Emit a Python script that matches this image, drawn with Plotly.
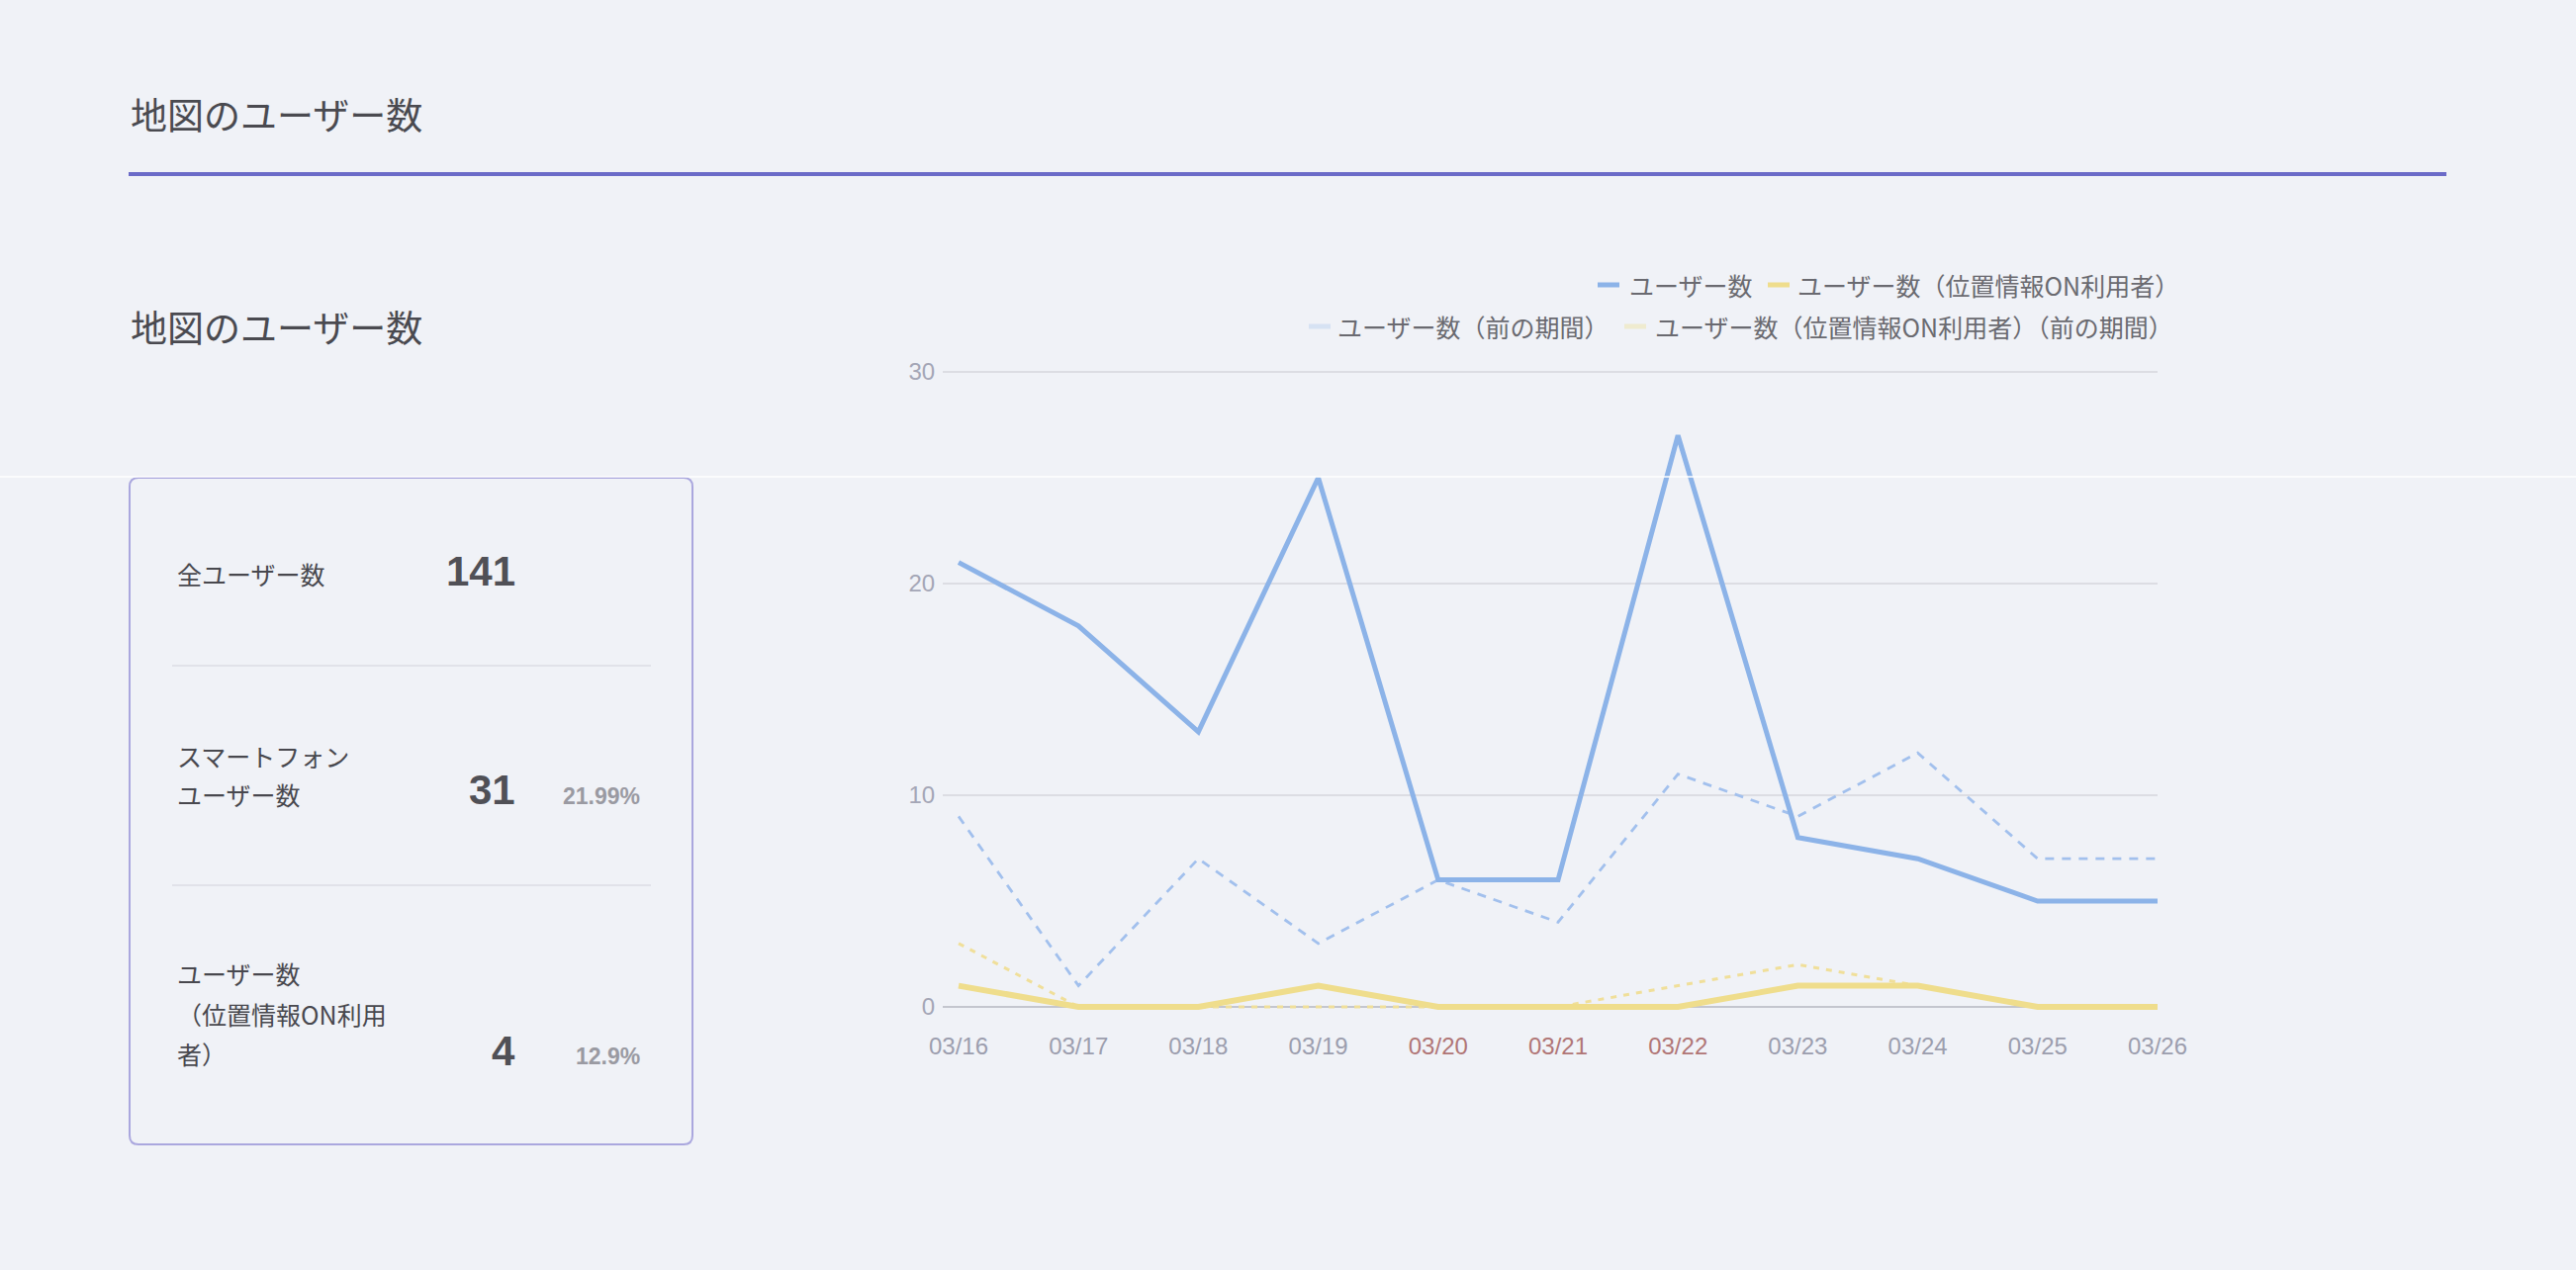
import plotly.graph_objects as go

# ---------------- data ----------------
dates = ["03/16", "03/17", "03/18", "03/19", "03/20", "03/21",
         "03/22", "03/23", "03/24", "03/25", "03/26"]
weekend_dates = ["03/20", "03/21", "03/22"]
users = [21, 18, 13, 25, 6, 6, 27, 8, 7, 5, 5]
users_location_on = [1, 0, 0, 1, 0, 0, 0, 1, 1, 0, 0]
users_prev = [9, 1, 7, 3, 6, 4, 11, 9, 12, 7, 7]
users_location_on_prev = [3, 0, 0, 0, 0, 0, 1, 2, 1, 0, 0]

series_names = ["ユーザー数", "ユーザー数（位置情報ON利用者）",
                "ユーザー数（前の期間）", "ユーザー数（位置情報ON利用者）（前の期間）"]
y_ticks = [0, 10, 20, 30]

page_title = "地図のユーザー数"
section_title = "地図のユーザー数"
kpi_labels = [["全ユーザー数"], ["スマートフォン", "ユーザー数"],
              ["ユーザー数", "（位置情報ON利用", "者）"]]
kpi_values = ["141", "31", "4"]
kpi_percents = ["", "21.99%", "12.9%"]

# ---------------- style ----------------
W, H = 2604, 1284
BG = "#f0f2f7"
JP = "Noto Sans CJK JP"
NUM = "Liberation Sans"
C_USERS = "#8cb3e8"
C_LOC = "#efdd8c"
C_USERS_PREV = "#a2c0ed"
C_LOC_PREV = "#f0df9a"


def px(x):
    return x / W


def py(y):
    return 1 - y / H


# plot area in pixels
PL, PR = 953, 2181
Y0_PIX, Y30_PIX = 1018, 376
unit = (Y0_PIX - Y30_PIX) / 30.0
y_lo, y_hi = -0.5, 30.3
PB = Y0_PIX - y_lo * unit
PT = Y30_PIX - (y_hi - 30) * unit
step = (PR - 969) / 10.0
x_lo = -(969 - PL) / step

fig = go.Figure()

fig.add_trace(go.Scatter(x=dates, y=users_prev, mode="lines", name=series_names[2],
                         line=dict(color=C_USERS_PREV, width=2.8, dash="9px,8px"),
                         showlegend=False))
fig.add_trace(go.Scatter(x=dates, y=users_location_on_prev, mode="lines", name=series_names[3],
                         line=dict(color=C_LOC_PREV, width=3, dash="6px,7px"),
                         showlegend=False))
fig.add_trace(go.Scatter(x=dates, y=users, mode="lines", name=series_names[0],
                         line=dict(color=C_USERS, width=5), showlegend=False))
fig.add_trace(go.Scatter(x=dates, y=users_location_on, mode="lines", name=series_names[1],
                         line=dict(color=C_LOC, width=6), showlegend=False))

ticktext = [f"<span style='color:#b07676'>{d}</span>" if d in weekend_dates else d
            for d in dates]

fig.update_layout(
    width=W, height=H, autosize=False,
    margin=dict(l=0, r=0, t=0, b=0, pad=0, autoexpand=False),
    paper_bgcolor=BG, plot_bgcolor=BG,
    showlegend=False,
    xaxis=dict(
        domain=[px(PL), px(PR)], type="category", range=[x_lo, 10],
        tickmode="array", tickvals=dates, ticktext=ticktext,
        showgrid=False, zeroline=False, showline=False, automargin=False,
        ticks="outside", ticklen=7, tickcolor="rgba(0,0,0,0)",
        tickfont=dict(family=NUM, size=24, color="#9c9eae"),
    ),
    yaxis=dict(
        domain=[py(PB), py(PT)], range=[y_lo, y_hi],
        tickmode="array", tickvals=y_ticks, automargin=False,
        showgrid=True, gridcolor="#dcdde3", gridwidth=2,
        zeroline=True, zerolinecolor="#c4c6ce", zerolinewidth=2,
        showline=False,
        ticks="outside", ticklen=2, tickcolor="rgba(0,0,0,0)",
        tickfont=dict(family=NUM, size=24, color="#a4a6b6"),
    ),
)

shapes = []
annotations = []

# header
annotations.append(dict(x=px(130), y=py(115), xref="paper", yref="paper",
                        xanchor="left", yanchor="middle", showarrow=False,
                        text=page_title, font=dict(family=JP, size=37, color="#4a4a50")))
shapes.append(dict(type="line", xref="paper", yref="paper",
                   x0=px(130), x1=px(2473), y0=py(176), y1=py(176),
                   line=dict(color="#6b6bc8", width=4)))
annotations.append(dict(x=px(130), y=py(330), xref="paper", yref="paper",
                        xanchor="left", yanchor="middle", showarrow=False,
                        text=section_title, font=dict(family=JP, size=37, color="#4a4a50")))

# card with rounded corners
cx0, cx1, cy0, cy1, r = 131, 700, 483, 1157, 9
path = (f"M {px(cx0 + r)},{py(cy0)} L {px(cx1 - r)},{py(cy0)} "
        f"Q {px(cx1)},{py(cy0)} {px(cx1)},{py(cy0 + r)} "
        f"L {px(cx1)},{py(cy1 - r)} Q {px(cx1)},{py(cy1)} {px(cx1 - r)},{py(cy1)} "
        f"L {px(cx0 + r)},{py(cy1)} Q {px(cx0)},{py(cy1)} {px(cx0)},{py(cy1 - r)} "
        f"L {px(cx0)},{py(cy0 + r)} Q {px(cx0)},{py(cy0)} {px(cx0 + r)},{py(cy0)} Z")
shapes.append(dict(type="path", xref="paper", yref="paper", path=path,
                   line=dict(color="#aaa7de", width=2), fillcolor=BG, layer="below"))
for yy in (673, 895):
    shapes.append(dict(type="line", xref="paper", yref="paper",
                       x0=px(174), x1=px(658), y0=py(yy), y1=py(yy),
                       line=dict(color="#dcdde4", width=1.5)))

label_lines_y = [[580], [764, 803], [984, 1025, 1065]]
value_y = [577, 798, 1062]
pct_y = [805, 805, 1068]
for lines, ys, val, vy, pct, pyy in zip(kpi_labels, label_lines_y, kpi_values,
                                        value_y, kpi_percents, pct_y):
    for t, yy in zip(lines, ys):
        annotations.append(dict(x=px(177), y=py(yy), xref="paper", yref="paper",
                                xanchor="left", yanchor="middle", showarrow=False,
                                text=t, font=dict(family=JP, size=25, color="#48484e")))
    annotations.append(dict(x=px(523), y=py(vy), xref="paper", yref="paper",
                            xanchor="right", yanchor="middle", showarrow=False,
                            text=f"<b>{val}</b>", font=dict(family=NUM, size=42, color="#505056")))
    if pct:
        annotations.append(dict(x=px(649), y=py(pyy), xref="paper", yref="paper",
                                xanchor="right", yanchor="middle", showarrow=False,
                                text=f"<b>{pct}</b>", font=dict(family=NUM, size=23, color="#9a9aa2")))

# legend (two right-aligned rows)
legend_items = [
    (series_names[0], C_USERS, 1615, 1637, 1645, 288),
    (series_names[1], C_LOC, 1787, 1809, 1815, 288),
    (series_names[2], "#d6e2f3", 1323, 1345, 1350, 330),
    (series_names[3], "#efebcf", 1642, 1664, 1671, 330),
]
for name, col, mx0, mx1, tx, yy in legend_items:
    shapes.append(dict(type="line", xref="paper", yref="paper",
                       x0=px(mx0), x1=px(mx1), y0=py(yy), y1=py(yy),
                       line=dict(color=col, width=5)))
    annotations.append(dict(x=px(tx), y=py(yy), xref="paper", yref="paper",
                            xanchor="left", yanchor="middle", showarrow=False,
                            text=name, font=dict(family=JP, size=25, color="#6a6a70")))

# thin white seam across the page
shapes.append(dict(type="line", xref="paper", yref="paper", layer="above",
                   x0=0, x1=1, y0=py(482), y1=py(482),
                   line=dict(color="#ffffff", width=1.5)))

fig.update_layout(shapes=shapes, annotations=annotations)
fig.write_html("out.html")
